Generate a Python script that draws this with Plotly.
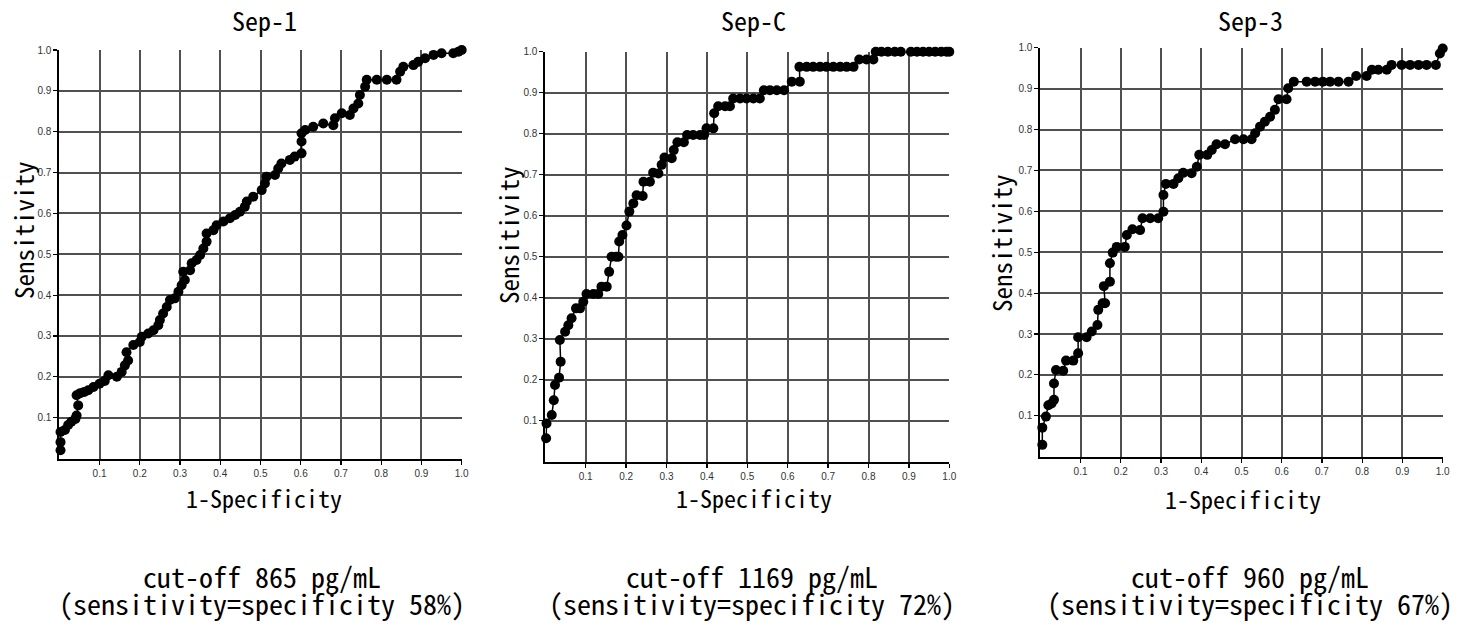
import plotly.graph_objects as go

# ---------------- data ----------------
panel_titles = ["Sep-1", "Sep-C", "Sep-3"]
cutoff_lines = ["cut-off 865 pg/mL", "cut-off 1169 pg/mL", "cut-off 960 pg/mL"]
equal_lines = ["(sensitivity=specificity 58%)", "(sensitivity=specificity 72%)",
               "(sensitivity=specificity 67%)"]
x_axis_title = "1-Specificity"
y_axis_title = "Sensitivity"
tick_vals = [0.1, 0.2, 0.3, 0.4, 0.5, 0.6, 0.7, 0.8, 0.9, 1.0]
tick_text = ["0.1", "0.2", "0.3", "0.4", "0.5", "0.6", "0.7", "0.8", "0.9", "1.0"]

sep1_fpr = [0.003, 0.003, 0.003, 0.014, 0.022, 0.03, 0.04, 0.043, 0.047, 0.043, 0.052,
            0.062, 0.072, 0.085, 0.10, 0.113, 0.122, 0.143, 0.155, 0.163, 0.171, 0.167,
            0.184, 0.20, 0.205, 0.221, 0.234, 0.246, 0.25, 0.258, 0.267, 0.275, 0.287,
            0.296, 0.304, 0.312, 0.308, 0.325, 0.329, 0.341, 0.35, 0.358, 0.366, 0.366,
            0.383, 0.391, 0.408, 0.424, 0.437, 0.449, 0.461, 0.466, 0.482, 0.503, 0.511,
            0.515, 0.536, 0.544, 0.552, 0.573, 0.585, 0.602, 0.602, 0.602, 0.611, 0.631,
            0.656, 0.681, 0.685, 0.702, 0.722, 0.731, 0.743, 0.747, 0.76, 0.764, 0.789,
            0.814, 0.838, 0.847, 0.855, 0.88, 0.892, 0.909, 0.93, 0.95, 0.979, 0.992, 1.0]
sep1_tpr = [0.02, 0.04, 0.065, 0.07, 0.082, 0.09, 0.097, 0.105, 0.13, 0.155, 0.16,
            0.163, 0.167, 0.175, 0.183, 0.19, 0.204, 0.20, 0.212, 0.228, 0.24, 0.26,
            0.278, 0.285, 0.298, 0.306, 0.314, 0.326, 0.339, 0.355, 0.371, 0.388, 0.392,
            0.408, 0.424, 0.437, 0.457, 0.461, 0.478, 0.486, 0.498, 0.514, 0.531, 0.551,
            0.559, 0.571, 0.58, 0.588, 0.596, 0.604, 0.616, 0.629, 0.641, 0.657, 0.673,
            0.69, 0.694, 0.71, 0.722, 0.731, 0.739, 0.747, 0.776, 0.796, 0.804, 0.812,
            0.82, 0.816, 0.833, 0.845, 0.841, 0.857, 0.869, 0.89, 0.91, 0.927, 0.927,
            0.927, 0.927, 0.947, 0.959, 0.963, 0.971, 0.98, 0.988, 0.992, 0.992, 0.996, 1.0]

sepc_fpr = [0.002, 0.003, 0.016, 0.021, 0.024, 0.034, 0.038, 0.036, 0.049, 0.057, 0.065,
            0.076, 0.086, 0.094, 0.102, 0.119, 0.131, 0.139, 0.152, 0.158, 0.164, 0.175,
            0.181, 0.183, 0.191, 0.201, 0.208, 0.218, 0.226, 0.241, 0.243, 0.259, 0.267,
            0.28, 0.288, 0.295, 0.313, 0.318, 0.327, 0.343, 0.351, 0.366, 0.383, 0.393,
            0.399, 0.416, 0.418, 0.428, 0.445, 0.457, 0.465, 0.482, 0.498, 0.515, 0.531,
            0.541, 0.556, 0.573, 0.591, 0.61, 0.63, 0.629, 0.647, 0.663, 0.68, 0.696,
            0.713, 0.73, 0.746, 0.763, 0.777, 0.795, 0.812, 0.818, 0.832, 0.848, 0.865,
            0.88, 0.905, 0.92, 0.935, 0.95, 0.965, 0.98, 0.993, 1.0]
sepc_tpr = [0.057, 0.093, 0.114, 0.15, 0.187, 0.205, 0.244, 0.297, 0.317, 0.333, 0.35,
            0.374, 0.374, 0.39, 0.409, 0.409, 0.409, 0.427, 0.427, 0.463, 0.5, 0.5,
            0.5, 0.537, 0.553, 0.576, 0.61, 0.63, 0.65, 0.648, 0.683, 0.683, 0.705,
            0.703, 0.724, 0.742, 0.74, 0.76, 0.779, 0.779, 0.797, 0.797, 0.797, 0.797,
            0.813, 0.813, 0.85, 0.867, 0.867, 0.867, 0.886, 0.886, 0.886, 0.886, 0.886,
            0.906, 0.906, 0.906, 0.906, 0.927, 0.927, 0.963, 0.963, 0.963, 0.963, 0.963,
            0.963, 0.963, 0.963, 0.963, 0.981, 0.981, 0.981, 1.0, 1.0, 1.0, 1.0,
            1.0, 1.0, 1.0, 1.0, 1.0, 1.0, 1.0, 1.0, 1.0]

sep3_fpr = [0.005, 0.005, 0.014, 0.02, 0.028, 0.034, 0.034, 0.039, 0.057, 0.064, 0.082,
            0.094, 0.094, 0.115, 0.128, 0.142, 0.144, 0.155, 0.161, 0.158, 0.173, 0.173,
            0.18, 0.19, 0.21, 0.215, 0.229, 0.248, 0.254, 0.273, 0.293, 0.306, 0.306,
            0.312, 0.331, 0.343, 0.355, 0.376, 0.389, 0.395, 0.415, 0.426, 0.438, 0.459,
            0.484, 0.505, 0.525, 0.534, 0.546, 0.558, 0.571, 0.583, 0.592, 0.612, 0.616,
            0.63, 0.662, 0.683, 0.702, 0.72, 0.741, 0.766, 0.785, 0.811, 0.824, 0.84,
            0.861, 0.873, 0.898, 0.919, 0.94, 0.96, 0.983, 0.993, 1.0]
sep3_tpr = [0.029, 0.071, 0.098, 0.126, 0.13, 0.139, 0.179, 0.212, 0.21, 0.235, 0.235,
            0.253, 0.292, 0.292, 0.306, 0.322, 0.359, 0.375, 0.375, 0.417, 0.428, 0.473,
            0.499, 0.513, 0.513, 0.542, 0.556, 0.554, 0.583, 0.583, 0.583, 0.599, 0.64,
            0.667, 0.667, 0.681, 0.694, 0.693, 0.709, 0.738, 0.738, 0.75, 0.764, 0.764,
            0.776, 0.776, 0.776, 0.791, 0.807, 0.819, 0.831, 0.848, 0.874, 0.874, 0.901,
            0.917, 0.917, 0.917, 0.917, 0.917, 0.917, 0.917, 0.931, 0.931, 0.946, 0.946,
            0.946, 0.958, 0.958, 0.958, 0.958, 0.958, 0.958, 0.986, 0.998]

series = [(sep1_fpr, sep1_tpr), (sepc_fpr, sepc_tpr), (sep3_fpr, sep3_tpr)]

# ---------------- layout geometry (page pixels) ----------------
W, H = 1458, 628
plot_boxes = [  # (left, right, top, bottom) in page pixels
    (59.3, 461.7, 50.0, 458.5),
    (545.3, 949.3, 51.7, 461.7),
    (1040.3, 1442.7, 47.7, 456.7),
]
# text box centres (slightly above the visual glyph centres, CJK font metrics)
title_pos = [(264, 20), (753, 20), (1250, 20)]
xtitle_pos = [(264, 497), (754, 497), (1243, 498)]
ytitle_pos = [(23, 230), (508, 235), (1001, 243)]
bottom_x = [262, 752, 1250]
bottom_y = [576, 603]


def px(x):
    return x / W


def py(y):
    return 1 - y / H


# half-width monospaced gothic (like MS Gothic); falls back to Liberation Mono
MONO = "Noto Sans Mono CJK JP, Liberation Mono, monospace"

fig = go.Figure()
for i, (fx, fy) in enumerate(series):
    n = "" if i == 0 else str(i + 1)
    fig.add_trace(go.Scatter(
        x=fx, y=fy, mode="lines+markers",
        line=dict(color="black", width=1.5),
        marker=dict(color="black", size=10),
        cliponaxis=False, showlegend=False, hoverinfo="skip",
        xaxis="x" + n, yaxis="y" + n,
    ))

layout = dict(
    width=W, height=H,
    margin=dict(l=0, r=0, t=0, b=0),
    paper_bgcolor="white", plot_bgcolor="white",
    showlegend=False,
)

annotations = []
for i, (l, r, t, b) in enumerate(plot_boxes):
    n = "" if i == 0 else str(i + 1)
    axis_common = dict(
        range=[0, 1], tickvals=tick_vals, ticktext=tick_text,
        showgrid=True, gridcolor="#505050", gridwidth=2,
        zeroline=False, showline=True, linecolor="black", linewidth=2,
        mirror=False, ticks="outside", ticklen=4, tickcolor="black", tickwidth=1.2,
        tickfont=dict(family="Liberation Sans, DejaVu Sans", size=10, color="#333333"),
        fixedrange=True, automargin=False,
    )
    layout["xaxis" + n] = dict(axis_common, domain=[px(l), px(r)], anchor="y" + n)
    layout["yaxis" + n] = dict(axis_common, domain=[py(b), py(t)], anchor="x" + n)

    tx, ty = title_pos[i]
    annotations.append(dict(text=panel_titles[i], x=px(tx), y=py(ty),
                            xref="paper", yref="paper", showarrow=False,
                            xanchor="center", yanchor="middle",
                            font=dict(family=MONO, size=26, color="black")))
    xx, xy = xtitle_pos[i]
    annotations.append(dict(text=x_axis_title, x=px(xx), y=py(xy),
                            xref="paper", yref="paper", showarrow=False,
                            xanchor="center", yanchor="middle",
                            font=dict(family=MONO, size=24, color="black")))
    yx, yy = ytitle_pos[i]
    annotations.append(dict(text=y_axis_title, x=px(yx), y=py(yy),
                            xref="paper", yref="paper", showarrow=False,
                            xanchor="center", yanchor="middle", textangle=-90,
                            font=dict(family=MONO, size=25, color="black")))
    annotations.append(dict(text=cutoff_lines[i], x=px(bottom_x[i]), y=py(bottom_y[0]),
                            xref="paper", yref="paper", showarrow=False,
                            xanchor="center", yanchor="middle",
                            font=dict(family=MONO, size=28, color="black")))
    annotations.append(dict(text=equal_lines[i], x=px(bottom_x[i]), y=py(bottom_y[1]),
                            xref="paper", yref="paper", showarrow=False,
                            xanchor="center", yanchor="middle",
                            font=dict(family=MONO, size=28, color="black")))

layout["annotations"] = annotations
fig.update_layout(**layout)
# remove the default 8px body margin so the figure fills the window exactly
fig.write_html("out.html",
               config={"displayModeBar": False, "staticPlot": True},
               post_script="document.body.style.margin='0';"
                           "document.body.style.overflow='hidden';")
